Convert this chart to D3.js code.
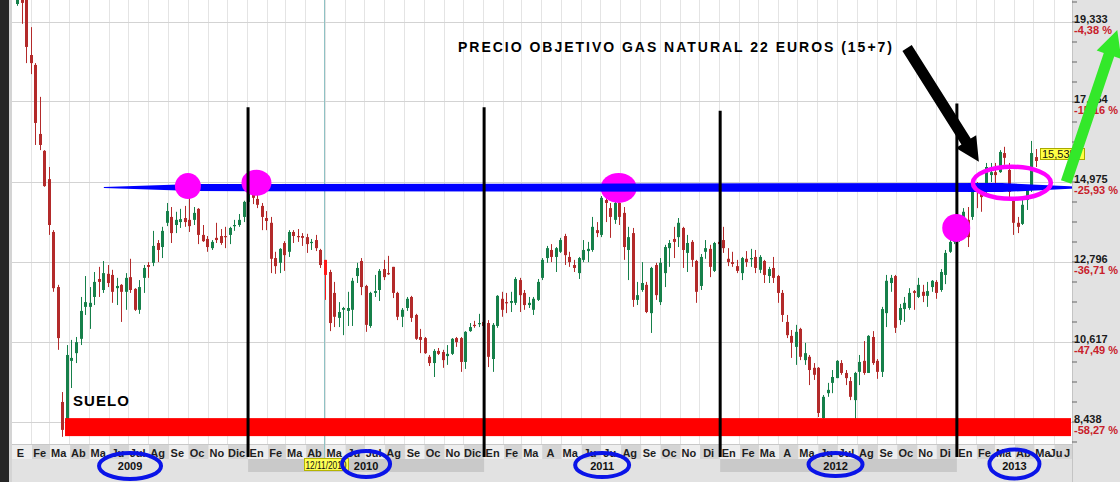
<!DOCTYPE html>
<html><head><meta charset="utf-8">
<script src="https://cdn.jsdelivr.net/npm/d3@7/dist/d3.min.js"></script>
<style>html,body{margin:0;padding:0;background:#fff;}svg{display:block;font-family:"Liberation Sans",Arial,sans-serif;}</style>
</head><body><svg id="c" width="1120" height="482"></svg>
<script>
// ---------------- DATA ----------------
// first weekly candle (Friday) of each year
const firstWeek = {2009:"2009-01-09",2010:"2010-01-01",2011:"2011-01-07",2012:"2012-01-06",2013:"2013-01-04"};
// weekly candles [open, high, low, close]
const ohlc2009 = [
[19.81,20.19,19.76,20.06],[20.00,20.14,19.27,19.84],[19.92,20.00,18.20,18.64],[18.42,19.18,17.90,18.20],
[18.15,18.20,15.97,16.57],[16.27,17.28,15.83,15.97],[15.81,15.83,14.83,14.85],[15.04,15.37,13.52,13.79],
[13.60,13.65,11.97,12.07],[12.10,12.16,10.39,10.71],[8.97,9.24,8.02,8.21],[8.15,10.52,8.07,10.25],
[10.09,10.66,9.35,10.17],[10.30,10.74,10.03,10.60],[10.69,11.83,10.52,11.45],[11.56,12.40,11.34,11.69],
[11.56,12.10,10.96,11.67],[11.83,12.51,11.61,12.24],[12.32,12.65,11.83,12.24],[12.02,12.81,11.94,12.48],
[12.46,12.70,12.10,12.21],[12.43,12.57,11.67,11.97],[12.07,12.35,11.61,12.13],[12.16,12.18,11.15,11.97],
[11.97,12.48,11.48,12.35],[12.37,12.87,11.94,12.02],[12.05,12.07,11.45,11.48],[11.48,12.29,11.37,12.10],
[12.35,12.70,11.94,12.62],[12.70,12.78,12.35,12.65],[12.76,13.63,12.67,13.22],[13.30,13.38,12.78,13.11],
[13.19,13.74,12.89,13.63],[13.85,14.39,13.76,14.17],[14.01,14.28,13.30,13.57],[13.79,14.15,13.57,13.93],
[13.87,14.23,13.71,13.95],[13.98,14.31,13.74,13.87],[13.93,14.66,13.60,13.76],[13.93,14.28,13.79,14.12],
[14.23,14.25,13.27,13.52],[13.52,13.79,13.33,13.35],[13.41,13.49,13.06,13.19],[13.16,13.38,13.11,13.33],
[13.44,13.85,13.30,13.38],[13.49,13.68,13.25,13.30],[13.49,13.74,13.16,13.46],[13.52,13.74,13.27,13.71],
[13.76,13.93,13.63,13.79],[13.79,14.09,13.74,13.93],[14.01,14.45,13.87,14.42]];
const ohlc2010 = [
[14.42,14.91,14.34,14.74],[14.80,14.93,14.36,14.53],[14.50,14.61,14.25,14.34],[14.31,14.39,13.65,14.01],
[13.98,14.17,13.65,13.90],[13.85,14.01,12.48,12.87],[12.89,13.06,12.46,12.67],[12.76,13.16,12.48,13.14],
[13.30,13.35,12.54,12.97],[13.06,13.65,12.92,13.60],[13.60,13.65,13.30,13.49],[13.49,13.68,13.33,13.46],
[13.49,13.57,13.22,13.44],[13.46,13.55,13.03,13.27],[13.30,13.41,13.11,13.33],[13.38,13.52,13.08,13.16],
[13.11,13.14,12.62,12.70],[12.84,12.84,11.75,12.43],[12.51,12.57,10.90,11.12],[11.94,12.24,11.01,11.29],
[11.26,11.69,11.01,11.42],[11.48,11.56,10.79,11.53],[11.45,11.97,11.04,11.53],[11.48,12.35,11.04,12.27],
[12.40,12.76,12.21,12.62],[12.81,12.89,11.88,12.10],[12.13,12.16,10.88,11.07],[11.04,11.97,10.99,11.94],
[11.94,12.43,11.83,11.99],[12.02,12.59,11.72,12.54],[12.59,12.84,12.29,12.37],[12.48,12.95,12.43,12.46],
[12.65,12.65,11.80,11.94],[11.94,11.97,11.20,11.29],[11.29,11.53,11.01,11.48],[11.53,11.83,11.45,11.78],
[11.83,11.86,11.15,11.26],[11.34,11.37,10.66,10.69],[10.74,10.96,10.30,10.66],[10.71,10.74,10.28,10.30],
[10.20,10.25,9.95,10.03],[10.03,10.41,9.65,10.36],[10.36,10.44,10.25,10.28],[10.33,10.39,9.90,10.11],
[10.22,10.52,9.98,10.28],[10.28,10.71,10.25,10.69],[10.71,10.74,10.47,10.60],[10.71,10.74,9.79,10.06],
[10.06,10.90,9.87,10.88],[10.90,11.12,10.88,11.01],[11.07,11.18,10.99,11.04],[11.09,11.37,11.01,11.12],
[11.15,11.26,10.96,11.04]];
const ohlc2011 = [
[11.12,11.20,9.92,10.20],[10.14,11.12,9.79,11.07],[11.04,11.88,10.99,11.86],[11.78,11.97,11.29,11.48],
[11.69,11.94,11.39,11.67],[11.67,11.97,11.42,11.72],[11.67,12.37,11.61,12.32],[12.29,12.35,11.42,11.88],
[11.94,12.02,11.48,11.61],[11.61,11.83,11.53,11.67],[11.48,11.83,11.34,11.78],[11.75,12.32,11.72,12.24],
[12.35,12.89,12.29,12.84],[12.89,13.22,12.76,13.16],[13.11,13.27,12.78,12.92],[12.92,13.19,12.51,13.16],
[13.06,13.44,13.03,13.38],[13.49,13.55,12.70,12.97],[12.92,13.06,12.65,12.78],[12.70,12.84,12.51,12.62],
[12.48,12.92,12.32,12.89],[12.84,13.38,12.78,13.11],[13.08,13.33,12.78,13.14],[13.11,14.01,13.06,13.74],
[13.65,13.87,13.46,13.57],[13.52,14.58,13.46,14.53],[14.47,14.55,13.87,14.39],[14.25,14.39,13.44,14.01],
[13.93,14.47,13.82,14.39],[14.39,14.53,13.79,14.01],[14.12,14.28,12.84,13.19],[13.11,13.74,12.29,13.46],
[13.57,13.71,11.56,11.75],[11.75,12.24,11.61,11.88],[12.02,12.78,11.97,12.21],[12.16,12.24,11.39,11.42],
[11.39,12.65,10.85,12.62],[12.70,12.76,11.75,11.88],[11.69,12.89,11.61,12.76],[12.48,13.25,12.10,13.19],
[13.16,13.38,12.65,13.30],[13.41,13.74,12.89,13.33],[13.46,13.98,13.19,13.85],[13.71,13.74,12.62,13.11],
[13.03,13.52,12.51,13.30],[13.33,13.38,12.65,12.84],[12.81,12.84,11.67,11.97],[12.13,13.00,12.02,12.92],
[13.06,13.38,12.87,13.16],[13.14,13.25,12.37,12.65],[12.54,13.33,12.51,13.30],[13.33,13.49,12.97,13.27]];
const ohlc2012 = [
[13.38,13.74,13.03,13.16],[12.87,13.16,12.67,12.78],[12.78,13.06,12.65,12.73],[12.67,12.84,12.48,12.54],
[12.48,12.92,12.29,12.89],[12.87,13.08,12.65,12.78],[12.87,13.14,12.65,12.89],[12.92,13.11,12.48,12.62],
[12.57,12.97,12.48,12.92],[12.81,12.84,12.21,12.43],[12.40,12.65,12.21,12.59],[12.62,12.92,12.21,12.35],
[12.40,12.43,11.67,11.94],[11.94,12.02,11.15,11.34],[11.15,11.34,10.71,10.79],[10.77,10.93,10.17,10.58],
[10.47,11.07,9.98,10.88],[10.96,10.99,10.11,10.20],[10.11,10.58,9.98,10.30],[10.20,10.25,9.43,9.84],
[9.90,10.03,9.57,9.71],[9.90,9.92,8.56,8.67],[8.53,9.16,8.48,9.11],[9.21,9.49,9.11,9.30],
[9.49,9.84,9.21,9.65],[9.62,10.11,9.62,10.09],[10.03,10.11,9.71,9.76],[9.76,9.84,9.43,9.62],
[9.54,9.65,9.02,9.11],[9.02,9.79,8.48,9.76],[9.79,10.25,9.43,10.06],[10.09,10.63,9.71,9.76],
[9.76,10.79,9.76,10.77],[10.74,10.90,9.98,10.03],[10.09,10.14,9.60,9.79],[9.79,11.56,9.65,11.50],
[11.39,12.43,11.01,12.27],[12.21,12.43,11.97,12.35],[12.40,12.43,10.85,10.99],[11.20,11.64,11.07,11.53],
[11.50,11.83,11.15,11.67],[11.53,12.07,11.48,11.94],[11.99,12.02,11.48,11.94],[11.83,12.35,11.80,12.16],
[11.97,12.16,11.69,11.86],[11.86,12.24,11.56,11.99],[12.10,12.29,11.97,12.27],[12.24,12.29,11.78,11.94],
[12.02,12.59,11.97,12.51],[12.43,13.11,12.18,13.03],[13.06,13.44,13.03,13.33],[13.33,13.76,13.27,13.60]];
const ohlc2013 = [
[13.44,13.93,13.33,13.76],[13.71,14.25,13.60,14.15],[13.93,14.28,13.19,13.46],[14.01,14.96,13.93,14.83],
[14.88,14.96,14.25,14.80],[14.83,14.93,14.15,14.55],[14.88,15.48,14.66,15.37],[15.15,15.48,14.96,15.23],
[15.23,15.48,14.88,15.15],[15.23,15.83,15.21,15.78],[15.75,15.92,15.43,15.62],[15.29,15.48,14.47,14.69],
[14.47,14.53,13.52,13.85],[13.85,14.01,13.57,13.74],[13.82,14.53,13.79,14.34],[14.47,14.83,14.20,14.74],
[14.74,16.08,14.69,15.75],[15.64,15.86,15.37,15.535]];

const priceTicks  = [19.333, 17.154, 14.975, 12.796, 10.617, 8.438];
const priceLabels = ["19,333","17,154","14,975","12,796","10,617","8,438"];
const pctLabels   = ["-4,38 %","-15,16 %","-25,93 %","-36,71 %","-47,49 %","-58,27 %"];
const monthLabels = ["E","Fe","Ma","Ab","Ma","Ju","Jul","Ag","Se","Oc","No","Dic",
 "En","Fe","Ma","Ab","Ma","Ju","Jul","Ag","Se","Oc","No","Dic",
 "En","Fe","Ma","A","Ma","Ju","Ju","Ag","Se","Oc","No","Di",
 "En","Fe","Ma","A","Ma","Ju","Jul","Ag","Se","Oc","No","Di",
 "En","Fe","Ma","Ab","Ma","Ju","J"];
const yearLabels = ["2009","2010","2011","2012","2013"];
const lastPriceLabel = "15,535";
const cursorDate = "2010-04-28", cursorLabel = "12/11/2010", selectedWeek = "2010-04-30";
// annotations (date, price)
const resistance = {start:"2009-05-23", price:14.81};
const supportBand = {start:"2009-03-24", low:8.04, high:8.53};
const yearLineTops = [17.0, 17.0, 16.9, 17.1];
const dots = [{d:"2009-09-30",p:14.85,rx:13,ry:13},{d:"2010-01-14",p:14.94,rx:15,ry:13},
              {d:"2011-07-28",p:14.80,rx:18,ry:15},{d:"2012-12-31",p:13.71,rx:14,ry:14}];
const ring = {d:"2013-03-27",p:14.94,rx:39,ry:16};
const blackArrow = {from:["2012-10-16",18.61], to:["2013-02-04",15.51]};
const greenArrow = {from:["2013-06-19",14.96], to:["2013-09-06",19.10]};
const title = "PRECIO OBJETIVO GAS NATURAL 22 EUROS (15+7)";
const floorText = "SUELO";

// ---------------- CHART ----------------
const W=1120,H=482,L=12,R=1072,PB=444;
const D = s => new Date(s+"T00:00:00Z");
const x = d3.scaleUtc().domain([D("2009-01-01"), D("2013-06-28")]).range([L,R]);
const y = d3.scaleLinear().domain([8.438,19.333]).range([421.5,21.5]);
const svg = d3.select("#c");
const GREEN="#16804a", RED="#b32a2a";

const candles=[];
[[2009,ohlc2009],[2010,ohlc2010],[2011,ohlc2011],[2012,ohlc2012],[2013,ohlc2013]].forEach(([yr,arr])=>{
  const d0=D(firstWeek[yr]);
  arr.forEach((v,i)=>candles.push({date:d3.utcDay.offset(d0,7*i),o:v[0],h:v[1],l:v[2],c:v[3]}));
});

svg.append("rect").attr("width",W).attr("height",H).attr("fill","#fff");
// bottom panel
svg.append("rect").attr("x",0).attr("y",PB).attr("width",W).attr("height",H-PB).attr("fill","#e2e2e2");
const months = d3.utcMonth.range(D("2009-01-01"), D("2013-07-02"));
months.forEach((d,i)=>{
  const x0=x(d), x1=Math.min(x(d3.utcMonth.offset(d,1)),R);
  if(x0>=R) return;
  svg.append("rect").attr("x",x0).attr("y",PB+1).attr("width",x1-x0).attr("height",14)
    .attr("fill", i%2 ? "#d5d5d5" : "#eeeeee");
});
[2010,2012].forEach(yr=>{
  const x0=x(D(yr+"-01-01")), x1=x(D((yr+1)+"-01-01"));
  svg.append("rect").attr("x",x0).attr("y",459).attr("width",x1-x0).attr("height",13).attr("fill","#c9c9c9");
});
// left strip
svg.append("rect").attr("x",0).attr("y",0).attr("width",9).attr("height",H).attr("fill","#252525");
svg.append("rect").attr("x",9).attr("y",0).attr("width",3).attr("height",H).attr("fill","#d4d4d4");

// grid
const grid = svg.append("g");
months.forEach(d=>{ const xx=Math.round(x(d))-0.5; if(xx>L&&xx<R)
  grid.append("line").attr("x1",xx).attr("x2",xx).attr("y1",0).attr("y2",PB).attr("stroke","#e4e4e4"); });
priceTicks.forEach(v=>{ const yy=Math.round(y(v))+0.5;
  grid.append("line").attr("x1",L).attr("x2",R).attr("y1",yy).attr("y2",yy).attr("stroke","#d3d3d3"); });
svg.append("line").attr("x1",L).attr("x2",R).attr("y1",PB+0.5).attr("y2",PB+0.5).attr("stroke","#c8c8c8");
// cursor line
const cx0=Math.round(x(D(cursorDate)))+0.5;
svg.append("line").attr("x1",cx0).attr("x2",cx0).attr("y1",0).attr("y2",458).attr("stroke","#8fc2c4");

// candles
svg.append("clipPath").attr("id","clip").append("rect").attr("x",L).attr("y",0).attr("width",R-L).attr("height",PB);
const cg = svg.append("g").attr("clip-path","url(#clip)");
const selT = D(selectedWeek).getTime();
candles.forEach(k=>{
  const xc=Math.round(x(k.date));
  const col = k.date.getTime()===selT ? "#ff1a1a" : (k.c>=k.o?GREEN:RED);
  cg.append("line").attr("x1",xc+0.5).attr("x2",xc+0.5).attr("y1",y(k.h)).attr("y2",y(k.l)).attr("stroke",col).attr("stroke-width",1);
  const yt=y(Math.max(k.o,k.c)), yb=y(Math.min(k.o,k.c));
  cg.append("rect").attr("x",xc-1).attr("y",yt).attr("width",3).attr("height",Math.max(1.2,yb-yt)).attr("fill",col);
});

// support band
svg.append("rect").attr("x",x(D(supportBand.start))).attr("y",y(supportBand.high))
  .attr("width",R-1-x(D(supportBand.start))).attr("height",y(supportBand.low)-y(supportBand.high)).attr("fill","#ff0000");

// magenta dot under the band (2011)
const MAG="#ff00ff";
const drawDot = o => svg.append("ellipse").attr("cx",x(D(o.d))).attr("cy",y(o.p)).attr("rx",o.rx).attr("ry",o.ry).attr("fill",MAG);
drawDot(dots[2]);

// resistance band (brush-like)
const bx=x(D(resistance.start)), by=y(resistance.price);
const bandPts=[[bx,by-0.5],[bx+90,by-3.5],[R-70,by-4.5],[R+3,by-1],[R+3,by+1],[R-70,by+4.5],[bx+90,by+3.5],[bx,by+0.5]];
svg.append("polygon").attr("points",bandPts.map(p=>p.join(",")).join(" ")).attr("fill","#0000ff");

[dots[0],dots[1]].forEach(drawDot);

// month labels
const ml = svg.append("g").attr("font-size",11).attr("font-weight","bold").attr("fill","#1e1e1e");
months.forEach((d,i)=>{
  if(i>=monthLabels.length) return;
  let cx=(x(d)+x(d3.utcMonth.offset(d,1)))/2-1.5, anchor="middle";
  if(i===monthLabels.length-1){cx=R-2;anchor="end";}
  else cx=Math.min(cx,R-16);
  ml.append("text").attr("x",cx).attr("y",457).attr("text-anchor",anchor).text(monthLabels[i]);
});
// cursor date label
svg.append("rect").attr("x",304.5).attr("y",458.5).attr("width",44).attr("height",12).attr("fill","#ffff55").attr("stroke","#b5b500");
svg.append("text").attr("x",305.5).attr("y",468.5).attr("font-size",10).attr("textLength",41).attr("lengthAdjust","spacingAndGlyphs").attr("fill","#111").text(cursorLabel);
// year labels + blue rings
const ringSize=[[31,13,466],[24,13,464],[27,12,465],[27,11.5,464.5],[25,14.5,464]];
yearLabels.forEach((t,i)=>{
  const yr=2009+i;
  const x0=Math.max(x(D(yr+"-01-01")),L), x1=Math.min(x(D((yr+1)+"-01-01")),R);
  const cx=(x0+x1)/2 + (i===3?-3:0);
  svg.append("text").attr("x",cx).attr("y",470).attr("text-anchor","middle").attr("font-size",11).attr("font-weight","bold").attr("fill","#111").text(t);
  svg.append("ellipse").attr("cx",cx).attr("cy",ringSize[i][2]).attr("rx",ringSize[i][0]).attr("ry",ringSize[i][1])
    .attr("fill","none").attr("stroke","#0a14e8").attr("stroke-width",4);
});

// year separator lines
[2010,2011,2012,2013].forEach((yr,i)=>{
  const xx=x(D(yr+"-01-01"));
  svg.append("line").attr("x1",xx).attr("x2",xx).attr("y1",y(yearLineTops[i])).attr("y2",457).attr("stroke","#000").attr("stroke-width",3);
});
drawDot(dots[3]);

// ring
svg.append("ellipse").attr("cx",x(D(ring.d))).attr("cy",y(ring.p)).attr("rx",ring.rx).attr("ry",ring.ry)
  .attr("fill","none").attr("stroke",MAG).attr("stroke-width",4.5);

// right axis panel
svg.append("rect").attr("x",R).attr("y",0).attr("width",W-R).attr("height",H).attr("fill","#e2e2e2");
svg.append("line").attr("x1",R+0.5).attr("x2",R+0.5).attr("y1",0).attr("y2",H).attr("stroke","#c4c4c4");
const step=(priceTicks[0]-priceTicks[1])/4;
const minor=d3.range(-1,22).map(k=>priceTicks[5]+k*step);
const ax=svg.append("g").attr("transform",`translate(${R},0)`)
  .call(d3.axisRight(y).tickValues(minor).tickSize(5).tickFormat(""));
ax.select(".domain").remove();
ax.selectAll("line").attr("stroke","#666");
priceTicks.forEach((v,i)=>{
  svg.append("text").attr("x",R+2).attr("y",y(v)+1).attr("font-size",11).attr("font-weight","bold").attr("fill","#1a1a1a").text(priceLabels[i]);
  svg.append("text").attr("x",R+2).attr("y",y(v)+12).attr("font-size",11).attr("font-weight","bold").attr("fill","#c8202a").text(pctLabels[i]);
});

// last price box
const last=candles[candles.length-1];
const lbx=Math.round(x(last.date))+4, lby=Math.round(y(last.c))-13;
svg.append("rect").attr("x",lbx+0.5).attr("y",lby+0.5).attr("width",44).attr("height",11).attr("fill","#ffff44").attr("stroke","#a9a900");
svg.append("text").attr("x",lbx+2).attr("y",lby+10).attr("font-size",11).attr("fill","#111").text(lastPriceLabel);

// arrows
function arrow(a,col,shaftHalf,headL,headHalf){
  const x1=x(D(a.from[0])),y1=y(a.from[1]),x2=x(D(a.to[0])),y2=y(a.to[1]);
  const dx=x2-x1,dy=y2-y1,len=Math.hypot(dx,dy),ux=dx/len,uy=dy/len,nx=-uy,ny=ux;
  const bx=x2-ux*headL,by=y2-uy*headL;
  const pts=[[x1+nx*shaftHalf,y1+ny*shaftHalf],[bx+nx*shaftHalf,by+ny*shaftHalf],[bx+nx*headHalf,by+ny*headHalf],
    [x2,y2],[bx-nx*headHalf,by-ny*headHalf],[bx-nx*shaftHalf,by-ny*shaftHalf],[x1-nx*shaftHalf,y1-ny*shaftHalf]];
  svg.append("polygon").attr("points",pts.map(p=>p.join(",")).join(" ")).attr("fill",col);
}
arrow(blackArrow,"#000",5.5,24,12);
arrow(greenArrow,"#33e82a",5.5,26,13);

// texts
svg.append("text").attr("x",458).attr("y",52).attr("font-size",14).attr("font-weight","bold")
  .attr("textLength",434).attr("lengthAdjust","spacing").attr("fill","#000").text(title);
svg.append("text").attr("x",73).attr("y",406).attr("font-size",15).attr("font-weight","bold")
  .attr("textLength",56).attr("lengthAdjust","spacing").attr("fill","#000").text(floorText);
</script></body></html>
